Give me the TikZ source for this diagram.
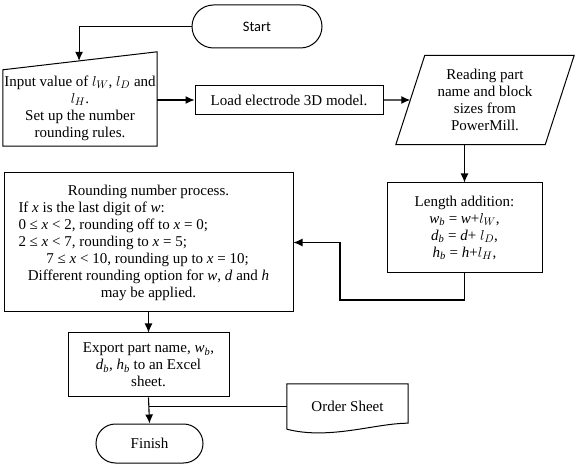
\documentclass[tikz,border=0pt]{standalone}
\usepackage{fontspec}
\setmainfont{Liberation Serif}
\newfontfamily\startfont{Carlito}
\usetikzlibrary{shapes.misc, calc, arrows.meta}
\newcommand{\itsub}[2]{\textit{#1}\textsubscript{\textit{#2}}}

\begin{document}
\begin{tikzpicture}[x = 1pt, y = -1pt, every text node part/.style={align=center}, font = \fontsize{15}{17}\selectfont]
			\tikzstyle{box} = [draw, rectangle, inner sep = 0pt, line width = 1pt]
			\tikzstyle{term} = [draw, rounded rectangle, inner sep = 0pt, line width = 1pt]
			\tikzstyle{ghost} = [rectangle, inner sep = 0pt]
			\tikzstyle{outline} = [draw, line width = 1pt, line join = miter]
			\tikzstyle{flow} = [draw, line width = 1.1pt, -{Latex[length=9pt, width=8pt]}]
			\useasboundingbox (0, 0) rectangle (576, 470);

			\path (257, 26.5) node[term, minimum width = 130pt, minimum height = 43pt, font = \startfont\fontsize{14.5}{17}\selectfont] (start) {Start};
			\path (80, 108) node[ghost, minimum width = 154pt, minimum height = 76pt] (in) {Input value of $l_W$, $l_D$ and\\$l_H$.\\Set up the number\\rounding rules.};
			\path (289, 100) node[box, minimum width = 188pt, minimum height = 29pt] (load) {Load electrode 3D model.};
			\path (485, 100) node[ghost, minimum width = 178pt, minimum height = 89pt] (para) {Reading part\\name and block\\sizes from\\PowerMill.};
			\path (464.5, 228) node[box, minimum width = 155pt, minimum height = 90pt] (len) {Length addition:\\\itsub{w}{b} = \textit{w}+$l_W$,\\\itsub{d}{b} = \textit{d}+ $l_D$,\\\itsub{h}{b} = \textit{h}+$l_H$,};
			\path (148.5, 242.5) node[box, minimum width = 289pt, minimum height = 139pt] (round) {Rounding number process.\\
				\makebox[260pt][l]{If \textit{x} is the last digit of \textit{w}:}\\
				\makebox[260pt][l]{0 ≤ \textit{x} < 2, rounding off to \textit{x} = 0;}\\
				\makebox[260pt][l]{2 ≤ \textit{x} < 7, rounding to \textit{x} = 5;}\\
				\makebox[260pt][l]{\hspace{28pt}7 ≤ \textit{x} < 10, rounding up to \textit{x} = 10;}\\
				Different rounding option for \textit{w}, \textit{d} and \textit{h}\\
				may be applied.};
			\path (148.5, 365) node[box, minimum width = 161pt, minimum height = 64pt] (export) {Export part name, \itsub{w}{b},\\\itsub{d}{b}, \itsub{h}{b} to an Excel\\sheet.};
			\path (149.5, 443.5) node[term, minimum width = 107pt, minimum height = 39pt] (finish) {Finish};
			\path (347.5, 406.5) node[ghost, minimum width = 121pt, minimum height = 45pt] (order) {Order Sheet};

			% outlines of the special shapes
			\coordinate (inne) at ($(in.north east)+(0, -18)$);
			\path[outline] (in.south west) -- (in.north west) -- (inne) -- (in.south east) -- cycle;
			\coordinate (paranw) at ($(para.north west)+(29, 0)$);
			\coordinate (parase) at ($(para.south east)+(-29, 0)$);
			\path[outline] (para.south west) -- (paranw) -- (para.north east) -- (parase) -- cycle;
			\path[outline] (order.south west) -- (order.north west) -- (order.north east) -- ($(order.south east)+(0, -6)$)
				.. controls ($(order.south east)+(-33, -6)$) and ($(order.south west)+(43, 11)$) .. (order.south west);

			\coordinate (inarr) at ($(in.north west)!0.494!(inne)$);
			\coordinate (paraw) at ($(para.south west)!0.5!(paranw)$);
			\coordinate (back) at (340, 300);

			\path[flow] (start.west) -| (inarr);
			\path[flow] (load.west -| in.east) -- (load.west);
			\path[flow] (load.east) -- (paraw);
			\path[flow] (len.north |- para.south) -- (len.north);
			\path[flow] (len.south) |- (back) |- (round.east);
			\path[flow] (round.south) -- (export.north);
			\path[flow] (export.south) -- (finish.north);
			\path[draw, line width = 1pt] (order.west) -- (order.west -| export.south);
		\end{tikzpicture}
\end{document}
